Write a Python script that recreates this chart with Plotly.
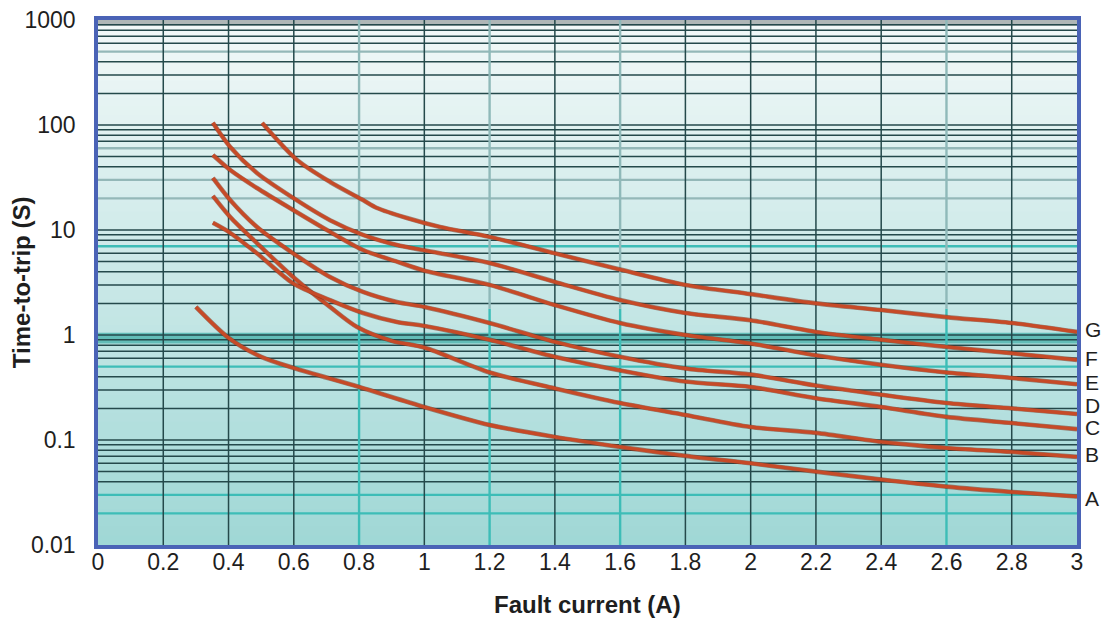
import numpy as np
import plotly.graph_objects as go

# ---------------- data ----------------
curve_names = ["A", "B", "C", "D", "E", "F", "G"]

a_x = [0.30, 0.40, 0.50, 0.60, 0.80, 1.00, 1.20, 1.40, 1.60, 1.80, 2.00, 2.20, 2.40, 2.60, 2.80, 3.00]
a_y = [1.85, 0.94, 0.62, 0.485, 0.32, 0.206, 0.139, 0.107, 0.086, 0.0706, 0.060, 0.050, 0.042, 0.036, 0.032, 0.029]

b_x = [0.352, 0.405, 0.487, 0.598, 0.711, 0.794, 0.90, 1.00, 1.20, 1.40, 1.60, 1.80, 2.00, 2.20, 2.40, 2.60, 2.80, 3.00]
b_y = [21.1, 13.3, 7.5, 3.57, 1.85, 1.19, 0.88, 0.76, 0.44, 0.31, 0.225, 0.173, 0.133, 0.117, 0.096, 0.084, 0.077, 0.069]

c_x = [0.352, 0.405, 0.487, 0.598, 0.711, 0.812, 0.916, 1.00, 1.20, 1.40, 1.60, 1.80, 2.00, 2.20, 2.40, 2.60, 2.80, 3.00]
c_y = [11.7, 9.4, 6.0, 3.1, 2.15, 1.62, 1.33, 1.22, 0.90, 0.62, 0.46, 0.36, 0.32, 0.25, 0.206, 0.166, 0.145, 0.127]

d_x = [0.352, 0.405, 0.487, 0.598, 0.711, 0.812, 0.916, 1.00, 1.20, 1.40, 1.60, 1.80, 2.00, 2.20, 2.40, 2.60, 2.80, 3.00]
d_y = [31.3, 19.3, 10.7, 6.0, 3.57, 2.57, 2.06, 1.85, 1.30, 0.86, 0.62, 0.48, 0.42, 0.33, 0.27, 0.225, 0.20, 0.177]

e_x = [0.352, 0.405, 0.487, 0.598, 0.711, 0.812, 0.916, 1.00, 1.20, 1.40, 1.60, 1.80, 2.00, 2.20, 2.40, 2.60, 2.80, 3.00]
e_y = [51.8, 37.3, 25.1, 15.5, 9.6, 6.45, 5.0, 4.1, 3.0, 1.93, 1.30, 1.00, 0.83, 0.64, 0.52, 0.44, 0.39, 0.34]

f_x = [0.352, 0.405, 0.487, 0.598, 0.711, 0.812, 0.916, 1.00, 1.20, 1.40, 1.60, 1.80, 2.00, 2.20, 2.40, 2.60, 2.80, 3.00]
f_y = [105, 61.8, 34.9, 20.2, 12.4, 9.0, 7.2, 6.4, 4.85, 3.2, 2.15, 1.62, 1.38, 1.07, 0.90, 0.77, 0.67, 0.58]

g_x = [0.503, 0.61, 0.711, 0.812, 0.855, 0.947, 1.048, 1.20, 1.40, 1.60, 1.80, 2.00, 2.20, 2.40, 2.60, 2.80, 3.00]
g_y = [104.5, 46.4, 28.7, 19.3, 16.2, 13.0, 10.7, 8.6, 6.0, 4.2, 3.0, 2.45, 2.0, 1.73, 1.48, 1.30, 1.07]

label_y = [0.028, 0.072, 0.132, 0.215, 0.355, 0.60, 1.12]

x_tick_vals = [0, 0.2, 0.4, 0.6, 0.8, 1, 1.2, 1.4, 1.6, 1.8, 2, 2.2, 2.4, 2.6, 2.8, 3]
x_tick_text = ["0", "0.2", "0.4", "0.6", "0.8", "1", "1.2", "1.4", "1.6", "1.8", "2", "2.2", "2.4", "2.6", "2.8", "3"]
y_tick_vals = [0.01, 0.1, 1, 10, 100, 1000]
y_tick_text = ["0.01", "0.1", "1", "10", "100", "1000"]

x_title = "Fault current (A)"
y_title = "Time-to-trip (S)"

# grid lines drawn in teal rather than dark
teal_h_values = [0.02, 0.03, 0.5, 7, 20, 30, 60, 500]
teal_v_values = [0.8, 1.2, 1.6, 2.6]

# ---------------- styling ----------------
DARK = "#24494b"
TEAL_LOW = "#3dbdb7"
TEAL_HIGH = "#94b8b8"
CURVE = "#c64a27"
FONT = "Liberation Sans, Arial, sans-serif"
TXT = "#1e1e1e"

fig = go.Figure()

all_x = [a_x, b_x, c_x, d_x, e_x, f_x, g_x]
all_y = [a_y, b_y, c_y, d_y, e_y, f_y, g_y]
for name, xs, ys in zip(curve_names, all_x, all_y):
    fig.add_trace(go.Scatter(x=xs, y=ys, mode="lines", name=name,
                             line=dict(color="#7a2a14", width=4.6, shape="spline", smoothing=0.8),
                             hoverinfo="skip", showlegend=False, opacity=0.55))
    fig.add_trace(go.Scatter(x=xs, y=ys, mode="lines", name=name,
                             line=dict(color=CURVE, width=3.4, shape="spline", smoothing=0.8),
                             showlegend=False))

annotations = []
for name, ly in zip(curve_names, label_y):
    annotations.append(dict(x=3, y=np.log10(ly), xref="x", yref="y", text=name,
                            showarrow=False, xanchor="left", yanchor="middle", xshift=7,
                            borderpad=0,
                            font=dict(family=FONT, size=21, color=TXT)))
annotations.append(dict(x=0.5, y=-0.114, xref="paper", yref="paper", text="<b>%s</b>" % x_title,
                        showarrow=False, xanchor="center", yanchor="middle",
                        font=dict(family=FONT, size=24, color=TXT)))
annotations.append(dict(x=-0.078, y=0.5, xref="paper", yref="paper", text="<b>%s</b>" % y_title,
                        showarrow=False, xanchor="center", yanchor="middle", textangle=-90,
                        font=dict(family=FONT, size=24, color=TXT)))

shapes = []
# background gradient strips
top = np.array([0xf3, 0xf9, 0xf9])
bot = np.array([0xa0, 0xd8, 0xd6])
n = 60
for i in range(n):
    t = (i + 0.5) / n
    c = top * (1 - t) + bot * t
    col = "rgb(%d,%d,%d)" % tuple(c.astype(int))
    shapes.append(dict(type="rect", xref="x domain", yref="y domain",
                       x0=0, x1=1, y0=1 - (i + 1) / n, y1=1 - i / n + 0.002,
                       fillcolor=col, line=dict(width=0), layer="below"))
# bands
shapes.append(dict(type="rect", xref="x domain", yref="y", x0=0, x1=1, y0=0.83, y1=1.05,
                   fillcolor="#62bcb7", line=dict(width=0), layer="below"))
shapes.append(dict(type="rect", xref="x domain", yref="y", x0=0, x1=1, y0=880, y1=1000,
                   fillcolor="#aeb6b6", line=dict(width=0), layer="below"))

# horizontal grid
for k in range(-2, 3):
    for m in range(1, 10):
        v = round(m * 10 ** k, 6)
        if v <= 0.01 or v >= 1000:
            continue
        if any(abs(v - tv) < 1e-9 for tv in teal_h_values):
            col = TEAL_HIGH if v >= 10 else TEAL_LOW
            w = 2.4
        else:
            col, w = DARK, 1.5
        shapes.append(dict(type="line", xref="x domain", yref="y", x0=0, x1=1, y0=v, y1=v,
                           line=dict(color=col, width=w), layer="below"))
# vertical grid
for xv in x_tick_vals[1:-1]:
    if any(abs(xv - tv) < 1e-9 for tv in teal_v_values):
        shapes.append(dict(type="line", xref="x", yref="y domain", x0=xv, x1=xv, y0=0, y1=0.45,
                           line=dict(color=TEAL_LOW, width=2.4), layer="below"))
        shapes.append(dict(type="line", xref="x", yref="y domain", x0=xv, x1=xv, y0=0.45, y1=1,
                           line=dict(color="#8fb9b9", width=2.4), layer="below"))
    else:
        shapes.append(dict(type="line", xref="x", yref="y domain", x0=xv, x1=xv, y0=0, y1=1,
                           line=dict(color=DARK, width=1.5), layer="below"))

fig.update_layout(
    width=1117, height=620,
    margin=dict(l=90, r=48, t=12, b=83, autoexpand=False),
    paper_bgcolor="white", plot_bgcolor="#d0eaea",
    shapes=shapes, annotations=annotations,
    font=dict(family=FONT, size=18, color=TXT),
    xaxis=dict(range=[0, 3], tickvals=x_tick_vals, ticktext=x_tick_text, automargin=False,
               showgrid=False, zeroline=False, showline=True, mirror=True,
               linecolor="#4a63b6", linewidth=3.5, ticks="", ticklabelstandoff=-6,
               ticklabeloverflow="allow",
               tickfont=dict(size=23, color=TXT)),
    yaxis=dict(type="log", range=[-2, 3], tickvals=y_tick_vals, ticktext=y_tick_text, automargin=False,
               showgrid=False, zeroline=False, showline=True, mirror=True,
               linecolor="#4a63b6", linewidth=3.5, ticks="outside", ticklen=14,
               tickcolor="rgba(0,0,0,0)", ticklabeloverflow="allow",
               tickfont=dict(size=23, color=TXT)),
)

fig.write_html("out.html")
